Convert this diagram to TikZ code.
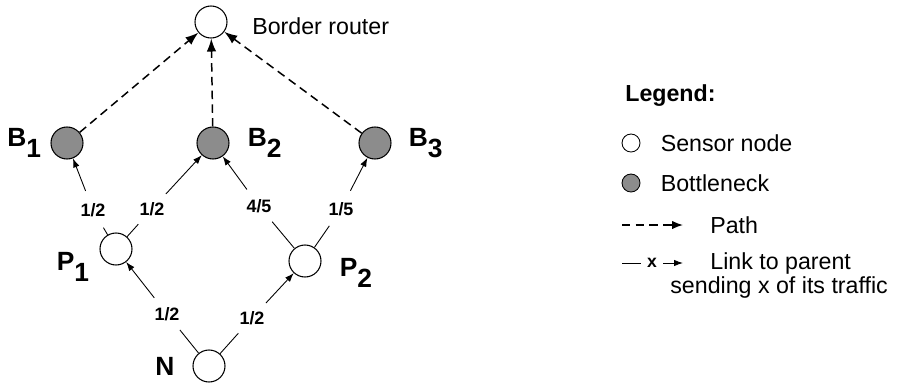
\documentclass[tikz,border=0pt]{standalone}
\usepackage{fontspec}
\setmainfont{Liberation Sans}
\usetikzlibrary{positioning}
\usetikzlibrary{arrows.meta}

\newcommand{\subname}[2]{\textbf{#1\raisebox{-0.42em}{#2}}}

\begin{document}
\begin{tikzpicture}[
  sensor/.style={draw, circle, line width=0.6pt, fill=white, minimum size=0.64cm, inner sep=0pt},
  bottleneck/.style={sensor, fill=black!45},
  nodelabel/.style={inner sep=0pt, font=\fontsize{15}{17}\selectfont},
  share/.style={circle, inner sep=2.5pt, font=\bfseries\fontsize{10.2}{12}\selectfont},
  link/.style={line width=0.5pt},
  linkarrow/.style={link, -{Latex[length=1.8mm, width=1.3mm]}},
  path/.style={line width=0.85pt, dash pattern=on 4.8pt off 3pt, -{Latex[length=2.6mm, width=1.9mm]}},
  keytext/.style={inner sep=0pt, anchor=west, font=\fontsize{13.2}{16}\selectfont}
]
\useasboundingbox (0,0) rectangle (17.98,7.64);

% tree
\node[sensor] (BR) at (4.22,7.20) {};
\node[bottleneck] (B1) at (1.34,4.78) {};
\node[bottleneck] (B2) at (4.26,4.78) {};
\node[bottleneck] (B3) at (7.50,4.78) {};
\node[sensor] (P1) at (2.32,2.66) {};
\node[sensor] (P2) at (6.10,2.42) {};
\node[sensor] (N) at (4.18,0.32) {};

\node[keytext] (brtext) at (5.04,7.12) {Border router};
\node[nodelabel, left=0.18cm of B1] (B1name) {\subname{B}{1}};
\node[nodelabel, right=0.36cm of B2] (B2name) {\subname{B}{2}};
\node[nodelabel, right=0.34cm of B3] (B3name) {\subname{B}{3}};
\node[nodelabel] (P1name) at (1.46,2.30) {\subname{P}{1}};
\node[nodelabel] (P2name) at (7.12,2.18) {\subname{P}{2}};
\node[nodelabel] (Nname) at (3.30,0.32) {\textbf{N}};

% paths to the border router
\draw[path] (B1) -- (BR);
\draw[path] (B2) -- (BR);
\draw[path] (B3) -- (BR);

% links to parents
\node[share] (s1) at (1.86,3.44) {1/2};
\node[share] (s2) at (3.04,3.46) {1/2};
\node[share] (s3) at (5.18,3.52) {4/5};
\node[share] (s4) at (6.82,3.46) {1/5};
\node[share] (s5) at (3.34,1.36) {1/2};
\node[share] (s6) at (5.04,1.28) {1/2};

\draw[link] (P1) -- (s1);  \draw[linkarrow] (s1) -- (B1);
\draw[link] (P1) -- (s2);  \draw[linkarrow] (s2) -- (B2);
\draw[link] (P2) -- (s3);  \draw[linkarrow] (s3) -- (B2);
\draw[link] (P2) -- (s4);  \draw[linkarrow] (s4) -- (B3);
\draw[link] (N) -- (s5);   \draw[linkarrow] (s5) -- (P1);
\draw[link] (N) -- (s6);   \draw[linkarrow] (s6) -- (P2);

% legend
\node[keytext, font=\bfseries\fontsize{13.2}{16}\selectfont] (legend) at (12.50,5.72) {Legend:};
\node[sensor, minimum size=0.36cm, line width=0.5pt] (keysensor) at (12.62,4.78) {};
\node[keytext, right=0.40cm of keysensor] (sensortext) {Sensor node};
\node[bottleneck, minimum size=0.36cm, line width=0.5pt] (keybottle) at (12.62,3.98) {};
\node[keytext, right=0.40cm of keybottle] (bottletext) {Bottleneck};

\coordinate (pathA) at (12.44,3.14);
\coordinate (pathB) at (13.66,3.14);
\draw[path, -{Latex[length=2.2mm, width=1.7mm]}] (pathA) -- (pathB);
\node[keytext, right=0.54cm of pathB] (pathtext) {Path};

\coordinate (linkA) at (12.44,2.38);
\node[inner sep=3.5pt, font=\bfseries\fontsize{10}{12}\selectfont] (linkx) at (13.04,2.38) {x};
\coordinate (linkB) at (13.66,2.38);
\draw[link] (linkA) -- (linkx);
\draw[linkarrow] (linkx) -- (linkB);
\node[keytext, right=0.54cm of linkB] (linktext) {Link to parent};
\node[keytext] (linktext2) at (13.40,1.90) {sending x of its traffic};

\end{tikzpicture}
\end{document}
